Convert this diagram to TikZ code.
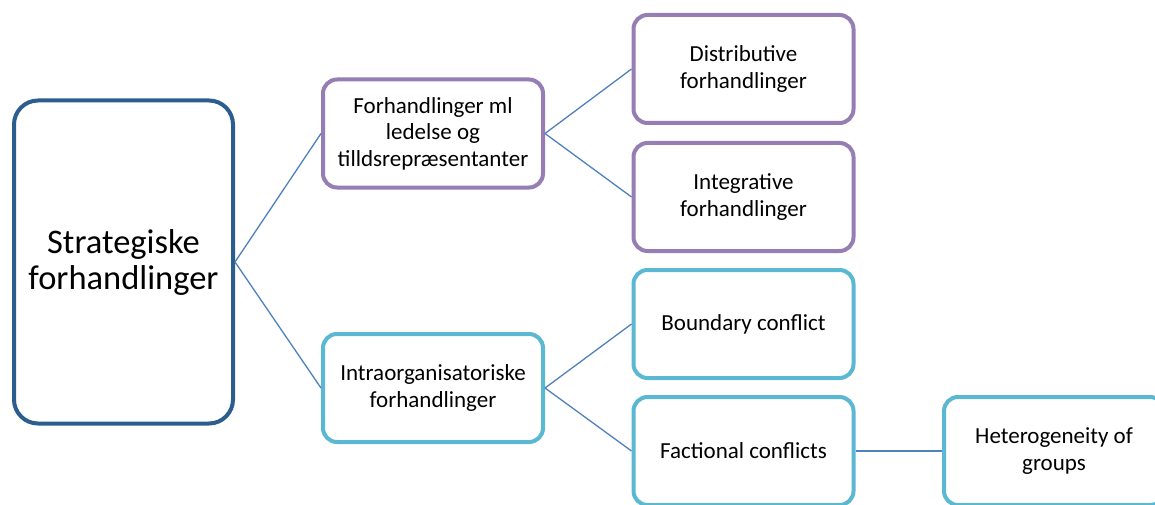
\documentclass[tikz,border=0pt]{standalone}
\usepackage{fontspec}
\setmainfont{Carlito}
\definecolor{rootblue}{RGB}{44,93,143}
\definecolor{lilac}{RGB}{150,125,180}
\definecolor{aqua}{RGB}{91,184,210}
\definecolor{linkblue}{RGB}{79,129,189}
\begin{document}
\begin{tikzpicture}[x=1pt,y=-1pt,
  box/.style={draw, line width=4pt, rounded corners=14pt, fill=white,
    minimum width=220pt, minimum height=108pt, align=center,
    inner sep=2pt, font=\fontsize{23}{26.5}\selectfont},
  rootbox/.style={box, draw=rootblue, rounded corners=24pt,
    minimum width=219pt, minimum height=323pt,
    font=\fontsize{34.5}{36}\selectfont},
  lilacbox/.style={box, draw=lilac},
  aquabox/.style={box, draw=aqua},
  link/.style={draw=linkblue, line width=1.3pt}]
\useasboundingbox (0,0) rectangle (1155,505);
\clip (0,0) rectangle (1155,505);
\fill[white] (0,0) rectangle (1155,505);

\node[rootbox]  (root) at (123.5,262) {Strategiske\\forhandlinger};
\node[lilacbox] (mgmt) at (433,133.5) {Forhandlinger ml\\ledelse og\\tilldsrepræsentanter};
\node[lilacbox] (dist) at (743.5,69) {Distributive\\forhandlinger};
\node[lilacbox] (integ) at (743.5,197) {Integrative\\forhandlinger};
\node[aquabox]  (intra) at (433,388) {Intraorganisatoriske\\forhandlinger};
\node[aquabox]  (bound) at (743.5,324) {Boundary conflict};
\node[aquabox]  (fact) at (743.5,451) {Factional conflicts};
\node[aquabox]  (het) at (1054,451) {Heterogeneity of\\groups};

% connectors between the boxes
\path[link] (root.east) -- (mgmt.west);
\path[link] (root.east) -- (intra.west);
\path[link] (mgmt.east) -- (dist.west);
\path[link] (mgmt.east) -- (integ.west);
\path[link] (intra.east) -- (bound.west);
\path[link] (intra.east) -- (fact.west);
\path[link] (fact.east) -- (het.west);
\end{tikzpicture}
\end{document}
